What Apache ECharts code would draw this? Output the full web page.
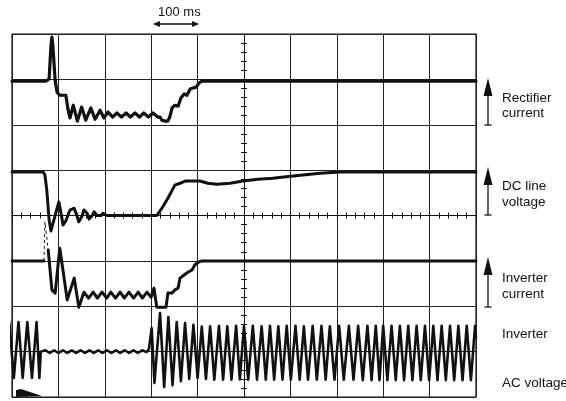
<!DOCTYPE html>
<html><head><meta charset="utf-8">
<script src="https://cdn.jsdelivr.net/npm/echarts@6/dist/echarts.min.js"></script>
<style>html,body{margin:0;padding:0;background:#fff}#c{width:566px;height:401px}</style>
</head><body><div id="c"></div>
<script>
// time axis in ms (100 ms per division), vertical axis in screen divisions (0 = bottom)
const timeRangeMs = [0, 1000];
const divRange = [0, 8];
const timeScaleText = '100 ms';
const traceLabels = [
  ['Rectifier', 'current'],
  ['DC line', 'voltage'],
  ['Inverter', 'current'],
  ['Inverter'],
  ['AC voltage']
];

const rectifierCurrent = [
  [0,6.96],[73,6.96],[80,7.01],[84,7.75],[86,7.93],[88,7.75],[93,6.98],[97,6.72],[103,6.65],[116,6.65],
  [121,6.32],[125,6.15],[132,6.43],[141,6.08],[150,6.39],[159,6.10],[170,6.37],[179,6.12],[190,6.32],
  [198,6.15],[207,6.28],[217,6.17],[226,6.26],[236,6.17],[246,6.26],[255,6.17],[265,6.26],[275,6.17],
  [284,6.26],[294,6.17],[304,6.26],[314,6.17],[319,6.17],[323,6.10],[330,6.08],[336,6.08],[340,6.17],
  [345,6.37],[351,6.43],[358,6.41],[364,6.59],[371,6.68],[377,6.65],[384,6.79],[390,6.81],[397,6.83],
  [403,6.92],[409,6.96],[1000,6.96]
];

const dcLineVoltage = [
  [0,4.96],[67,4.96],[71,4.89],[75,4.56],[80,3.90],[84,3.66],[88,3.70],[95,4.08],[101,4.30],[106,4.03],
  [110,3.79],[116,3.88],[125,4.12],[134,4.16],[140,3.99],[144,3.86],[151,3.99],[155,4.12],[162,4.05],
  [166,3.92],[172,3.99],[177,4.08],[183,4.0],[187,3.97],[192,4.0],[196,4.05],[203,4.0],[312,4.0],
  [323,4.16],[336,4.38],[351,4.67],[362,4.71],[373,4.76],[390,4.76],[405,4.76],[422,4.71],[442,4.69],
  [470,4.71],[498,4.76],[530,4.80],[562,4.82],[606,4.87],[664,4.93],[707,4.96],[1000,4.96]
];

const inverterCurrentPre = [[0,3.0],[69,3.0]];
const inverterCurrentSpike = [[69,3.0],[71,3.86],[78,3.24]];
const inverterCurrentPost = [
  [78,3.24],[86,2.36],[93,2.29],[103,3.28],[119,2.14],[134,2.62],[144,1.98],[155,2.31],[165,2.18],
  [175,2.31],[184,2.18],[194,2.31],[204,2.18],[213,2.31],[223,2.18],[233,2.31],[242,2.18],[252,2.31],
  [262,2.18],[272,2.31],[281,2.18],[291,2.31],[300,2.20],[306,2.40],[312,1.98],[332,1.98],[336,2.29],
  [345,2.29],[351,2.36],[358,2.40],[362,2.62],[371,2.69],[379,2.75],[388,2.80],[394,2.91],[401,2.97],
  [409,3.0],[1000,3.0]
];

const inverterAcVoltage = [
  [-9,0.35],[-6,1.65],[4,0.42],[14,1.65],[23,0.42],[33,1.65],[43,0.42],[53,1.65],[59,0.42],[62,1.0],
  [72,1.03],[81,0.97],[91,1.03],[100,0.97],[110,1.03],[119,0.97],[129,1.03],[138,0.97],[148,1.03],
  [157,0.97],[167,1.03],[176,0.97],[186,1.03],[195,0.97],[205,1.03],[214,0.97],[224,1.03],[233,0.97],
  [243,1.03],[252,0.97],[262,1.03],[271,0.97],[281,1.03],[290,0.99],[295,1.05],
  [301,1.52],[307,0.31],[319,1.85],[328,0.22],[337,1.76],[346,0.26],[355,1.65],[364,0.35],[373,1.63],
  [382,0.40],[391,1.59],[400,0.42],[409,1.55],[418,0.40],[427,1.56],[436,0.38],[446,1.57],[455,0.38],
  [464,1.56],[473,0.38],[483,1.57],[491,0.39],[500,1.56],[509,0.38],[519,1.57],[528,0.38],[538,1.56],
  [547,0.38],[556,1.57],[565,0.38],[574,1.56],[583,0.38],[592,1.57],[601,0.38],[611,1.57],[620,0.38],
  [629,1.56],[638,0.38],[648,1.57],[657,0.38],[667,1.57],[676,0.38],[685,1.56],[695,0.38],[705,1.57],
  [715,0.38],[726,1.57],[736,0.38],[746,1.57],[756,0.37],[766,1.57],[775,0.37],[784,1.57],[792,0.37],
  [800,1.57],[809,0.37],[818,1.57],[827,0.37],[836,1.57],[845,0.37],[854,1.57],[863,0.37],[872,1.57],
  [881,0.37],[890,1.57],[899,0.37],[908,1.57],[917,0.37],[926,1.57],[935,0.37],[944,1.57],[953,0.37],
  [962,1.57],[971,0.37],[980,1.57],[989,0.37],[998,1.57],[1000,1.3]
];

const INK = '#111';
const FONT = '"Liberation Sans", Arial, sans-serif';
const G = {left: 12, top: 34, width: 464, height: 363};

function trace(data, width, extra) {
  return Object.assign({
    type: 'line', xAxisIndex: 0, yAxisIndex: 0, data: data, symbol: 'none',
    lineStyle: {color: INK, width: width, join: 'round', cap: 'round'}, silent: true, animation: false
  }, extra || {});
}

const centerAxisBase = {
  axisLabel: {show: false}, splitLine: {show: false},
  axisLine: {show: true, onZero: true, lineStyle: {color: INK, width: 1}},
  axisTick: {show: true, length: 3, lineStyle: {color: INK, width: 1}},
  minorTick: {show: true, splitNumber: 5, length: 3, lineStyle: {color: INK, width: 1}}
};
function centerAxis(extra) {
  const a = JSON.parse(JSON.stringify(centerAxisBase));
  return Object.assign(a, extra);
}

const chart = echarts.init(document.getElementById('c'), null, {renderer: 'canvas'});

const texts = [];
function label(str, x, y) {
  texts.push({type: 'text', left: x, top: y, style: {text: str, fill: INK, font: '13.5px ' + FONT}});
}
label(traceLabels[0][0], 502, 91); label(traceLabels[0][1], 502, 106);
label(traceLabels[1][0], 502, 179); label(traceLabels[1][1], 502, 195);
label(traceLabels[2][0], 502, 271); label(traceLabels[2][1], 502, 287);
label(traceLabels[3][0], 502, 327);
label(traceLabels[4][0], 502, 376);
texts.push({type: 'text', left: 158, top: 6, style: {text: timeScaleText, fill: INK, font: '13px ' + FONT}});

function upArrow(x, tip, base, bottom) {
  return [
    {type: 'polygon', shape: {points: [[x, tip], [x - 4.5, base], [x + 4.5, base]]}, style: {fill: INK}},
    {type: 'line', shape: {x1: x, y1: base, x2: x, y2: bottom}, style: {stroke: INK, lineWidth: 1.3}},
    {type: 'line', shape: {x1: x - 3.5, y1: bottom, x2: x + 3.5, y2: bottom}, style: {stroke: INK, lineWidth: 1.3}}
  ];
}
const deco = [].concat(
  upArrow(488, 78, 96, 125),
  upArrow(488, 167, 185, 215),
  upArrow(488, 257, 275, 307),
  [
    {type: 'line', shape: {x1: 155, y1: 24, x2: 197, y2: 24}, style: {stroke: INK, lineWidth: 1.3}},
    {type: 'polygon', shape: {points: [[153, 24], [160, 21], [160, 27]]}, style: {fill: INK}},
    {type: 'polygon', shape: {points: [[199, 24], [192, 21], [192, 27]]}, style: {fill: INK}},
    {type: 'polygon', shape: {points: [[16, 390], [21, 389], [42, 396], [16, 397]]}, style: {fill: INK}}
  ]
);

chart.setOption({
  animation: false,
  backgroundColor: '#fff',
  grid: [
    Object.assign({show: true, borderColor: INK, borderWidth: 1.2, backgroundColor: 'transparent'}, G),
    Object.assign({}, G),
    Object.assign({}, G)
  ],
  xAxis: [
    {gridIndex: 0, type: 'value', min: timeRangeMs[0], max: timeRangeMs[1], interval: 100,
     axisLabel: {show: false}, axisTick: {show: false}, axisLine: {show: false},
     splitLine: {show: true, lineStyle: {color: '#222', width: 1}}},
    centerAxis({gridIndex: 1, type: 'value', min: -500, max: 500, interval: 100, position: 'bottom',
      axisLine: Object.assign({}, centerAxisBase.axisLine, {onZeroAxisIndex: 1})}),
    centerAxis({gridIndex: 2, type: 'value', min: -500, max: 500, interval: 100, position: 'top',
      axisLine: Object.assign({}, centerAxisBase.axisLine, {onZeroAxisIndex: 2})})
  ],
  yAxis: [
    {gridIndex: 0, type: 'value', min: divRange[0], max: divRange[1], interval: 1,
     axisLabel: {show: false}, axisTick: {show: false}, axisLine: {show: false},
     splitLine: {show: true, lineStyle: {color: '#222', width: 1}}},
    centerAxis({gridIndex: 1, type: 'value', min: -4, max: 4, interval: 1, position: 'left',
      axisLine: Object.assign({}, centerAxisBase.axisLine, {onZeroAxisIndex: 1})}),
    centerAxis({gridIndex: 2, type: 'value', min: -4, max: 4, interval: 1, position: 'right',
      axisLine: Object.assign({}, centerAxisBase.axisLine, {onZeroAxisIndex: 2})})
  ],
  series: [
    trace(rectifierCurrent, 3.2),
    trace(dcLineVoltage, 3),
    trace(inverterCurrentPre, 3),
    trace(inverterCurrentSpike, 1, {lineStyle: {color: INK, width: 1, type: [3, 3]}}),
    trace(inverterCurrentPost, 3),
    trace(inverterAcVoltage, 2.6, {clip: false})
  ],
  graphic: texts.concat(deco)
});
</script>
</body></html>
